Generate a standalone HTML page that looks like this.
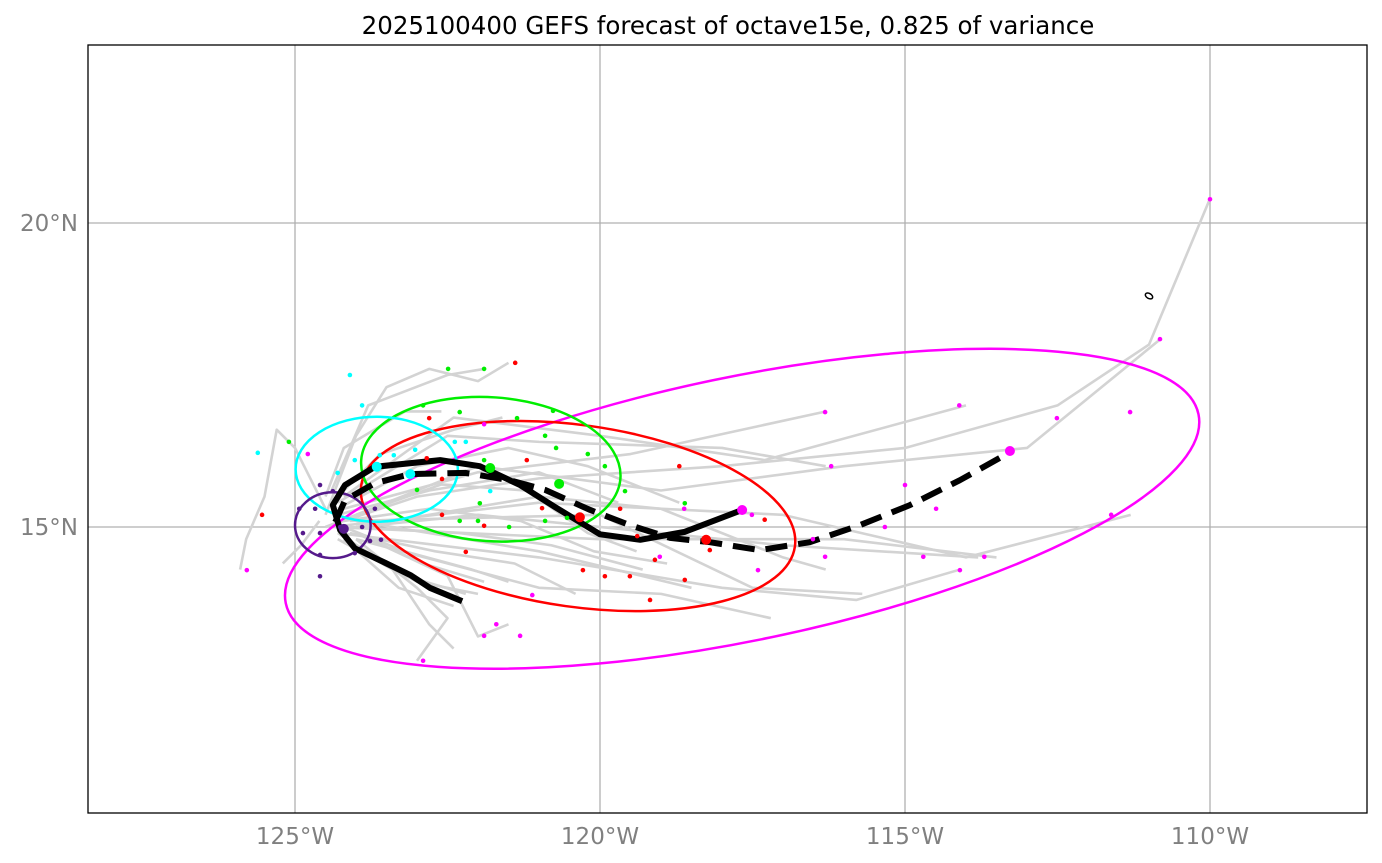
<!DOCTYPE html>
<html><head><meta charset="utf-8"><style>
body{margin:0;background:#fff;}
svg{display:block;font-family:"DejaVu Sans","Liberation Sans",sans-serif;}
</style></head><body>
<svg id="chart" width="1382" height="863">
<text x="728" y="34" text-anchor="middle" font-size="24.5" fill="#000">2025100400 GEFS forecast of octave15e, 0.825 of variance</text>
<g id="grid"></g><g id="tracks"></g><g id="ells"></g><g id="means"></g><g id="dots"></g><g id="axes"></g>
<rect x="88" y="45" width="1279" height="768" fill="none" stroke="#000" stroke-width="1.3"/>
</svg>
<script>
const lonTicks=[-125,-120,-115,-110];
const lonLabels=["125°W","120°W","115°W","110°W"];
const latTicks=[15,20];
const latLabels=["15°N","20°N"];
const grayTracks=[
[[-124.5,15],[-123,15.5],[-121,15.8],[-118,16],[-115,16.3],[-112.5,17],[-111,18],[-110,20.4]],
[[-124.5,15],[-122,16],[-119,15.6],[-116,16.0],[-113,16.3],[-110.8,18.1]],
[[-124.4,15],[-121,15.4],[-117,15.2],[-114,14.5],[-111.3,15.2]],
[[-124.4,15],[-120,14.8],[-116,14.8],[-113.5,14.5]],
[[-124.3,14.9],[-121,14.5],[-118,14],[-115.8,13.8],[-114.1,14.3]],
[[-124.5,15.2],[-124,16.5],[-123.5,17.3],[-122.8,17.6],[-122,17.4],[-121.5,17.7]],
[[-124.5,15.3],[-125,16.3],[-125.3,16.6],[-125.5,15.5],[-125.8,14.8],[-125.9,14.3]],
[[-124,14.8],[-123,14],[-122.5,13.5],[-123,12.8]],
[[-124,14.9],[-122.5,14.2],[-122,13.2],[-121.5,13.4]],
[[-124,15],[-121,15.5],[-119,15.3],[-117,14.5],[-116.3,14.3]],
[[-124,15.1],[-121,14.6],[-118.5,14.0]],
[[-124,15.0],[-122,15.2],[-119,14.9],[-117,14.7],[-113.8,14.5]],
[[-124,14.8],[-121,14.0],[-119,13.9],[-117.2,13.5]],
[[-124.3,15.4],[-122.5,16.5],[-121,16.4],[-118,16.3],[-116.3,16.0]],
[[-124.2,15.5],[-122.4,16.8],[-120,16.5],[-117.3,16.1],[-114.0,17.0]],
[[-124.2,15.3],[-122,15.9],[-119.5,16.2],[-116.3,16.9]],
[[-124.1,15.1],[-120,15.2],[-117.5,14.0],[-115.7,13.9]],
[[-124.4,15.6],[-123.8,17.0],[-122.5,17.5],[-121.9,17.6]],
[[-124.3,14.9],[-123.2,14.2],[-122.2,13.9]],
[[-124.2,14.8],[-123.3,14.0],[-122.4,13.7]],
[[-124.1,14.7],[-123,14.1],[-122,13.9]],
[[-124.0,14.9],[-122.9,14.4],[-121.9,14.1]],
[[-124.2,15.0],[-123.2,14.6],[-122.1,14.3],[-121.5,14.1]],
[[-124.3,15.2],[-122.8,15.6],[-121,15.9],[-119.7,15.4]],
[[-124.3,15.3],[-123,16.0],[-121.5,16.3],[-120.2,16.0],[-118.7,15.4]],
[[-124.6,15.1],[-124.9,14.7],[-125.2,14.4]],
[[-124.4,15.4],[-123.6,16.2],[-122.4,16.6],[-121.6,16.8]],
[[-124.0,15.2],[-122.6,15.7],[-121.2,15.6],[-120.2,14.9],[-119.4,14.6]],
[[-124.3,14.8],[-123.4,14.3],[-122.8,13.4],[-122.4,13.0]],
[[-124.1,15.0],[-122.3,14.9],[-120.8,14.7],[-119.3,14.3]],
[[-124.2,15.1],[-122.8,15.3],[-121.3,15.1],[-120.1,14.6],[-118.9,14.4]],
[[-124.5,15.5],[-124.2,16.3],[-123.2,16.9],[-122.6,16.9]],
[[-124.1,14.9],[-122.7,14.6],[-121.4,14.4],[-120.4,13.9]]
];
const meanLon=[-122.26,-122.79,-123.11,-123.52,-124.02,-124.26,-124.38,-124.18,-123.69,-122.62,-121.97,-121.31,-120.74,-120.0,-119.34,-118.61,-117.67];
const meanLat=[13.78,14.0,14.21,14.41,14.65,14.95,15.36,15.69,15.99,16.10,16.00,15.69,15.33,14.88,14.79,14.92,15.28];
const dashLon=[-124.34,-124.18,-123.69,-123.11,-122.21,-121.48,-120.90,-120.16,-119.51,-118.85,-118.20,-117.38,-116.56,-115.74,-114.92,-114.10,-113.28];
const dashLat=[15.08,15.44,15.72,15.87,15.89,15.77,15.61,15.28,15.03,14.82,14.75,14.62,14.75,15.03,15.36,15.77,16.23];
const ellColors=["#ff00ff","#ff0000","#00ee00","#00ffff","#551a8b"];
const ellLon=[-117.67,-120.36,-121.79,-123.66,-124.38];
const ellLat=[15.3,15.18,15.95,15.95,15.03];
const ellA=[7.64,3.59,2.13,1.33,0.62];
const ellB=[2.16,1.49,1.18,0.86,0.54];
const ellAng=[-11.7,8,4,0,0];
const redDots=[[-121.39,17.70],[-122.80,16.79],[-122.59,15.79],[-122.84,16.13],[-122.59,15.20],[-122.20,14.59],[-121.90,15.02],[-121.20,16.10],[-120.95,15.31],[-120.28,14.29],[-119.92,14.19],[-119.51,14.19],[-119.10,14.46],[-119.18,13.80],[-118.61,14.13],[-118.20,14.62],[-118.70,16.00],[-117.30,15.12],[-119.67,15.30],[-119.39,14.85],[-125.54,15.20]];
const greenDots=[[-122.49,17.60],[-121.90,17.60],[-122.90,17.00],[-122.30,16.89],[-121.36,16.79],[-120.90,16.50],[-120.72,16.30],[-120.20,16.20],[-119.92,16.00],[-123.00,15.61],[-121.90,16.10],[-121.97,15.39],[-122.30,15.10],[-122.00,15.10],[-121.49,15.00],[-120.90,15.10],[-120.54,15.15],[-119.59,15.59],[-118.61,15.39],[-125.10,16.40],[-120.77,16.91]];
const cyanDots=[[-124.10,17.50],[-123.90,17.00],[-124.02,16.10],[-123.61,16.18],[-123.38,16.18],[-123.03,16.27],[-122.38,16.40],[-122.20,16.40],[-121.80,15.59],[-124.30,15.89],[-125.61,16.22]];
const magentaDots=[[-124.79,16.20],[-121.90,16.69],[-110.0,20.39],[-110.82,18.09],[-111.31,16.89],[-112.51,16.79],[-114.11,17.00],[-115.00,15.69],[-116.31,16.89],[-116.21,16.00],[-114.49,15.30],[-115.33,15.00],[-114.70,14.51],[-113.70,14.51],[-114.10,14.29],[-111.62,15.20],[-116.31,14.51],[-116.51,14.80],[-117.41,14.29],[-117.51,15.20],[-118.62,15.30],[-119.02,14.51],[-121.11,13.88],[-121.90,13.21],[-121.70,13.40],[-121.31,13.21],[-122.90,12.80],[-125.79,14.29]];
const purpleDots=[[-124.59,15.69],[-124.38,15.59],[-124.93,15.30],[-124.67,15.30],[-124.87,14.90],[-124.59,14.90],[-124.26,15.00],[-124.59,14.54],[-123.90,15.00],[-123.77,14.77],[-123.59,14.79],[-124.59,14.19],[-123.69,15.30],[-124.02,14.57]];
const bigColors=["#00ffff","#00ffff","#00ee00","#00ee00","#ff0000","#ff0000","#ff00ff","#ff00ff","#551a8b"];
const bigLon=[-123.66,-123.11,-121.80,-120.67,-120.33,-118.26,-117.67,-113.28,-124.20];
const bigLat=[15.99,15.87,15.97,15.71,15.16,14.79,15.28,16.25,14.97];

const NS="http://www.w3.org/2000/svg";
const X=lon=>295+(lon+125)*61;
const Y=lat=>527-(lat-15)*60.8;
function mk(tag,parent,attrs){const e=document.createElementNS(NS,tag);for(const k in attrs)e.setAttribute(k,attrs[k]);document.getElementById(parent).appendChild(e);return e;}

lonTicks.forEach((t,i)=>{
 const l=mk('line','grid',{x1:X(t),x2:X(t),y1:45,y2:813,stroke:'#b0b0b0','stroke-width':1.3});
 
 
 const tx=mk('text','axes',{x:X(t),y:844,'text-anchor':'middle','font-size':23,fill:'#808080'});
 tx.textContent=lonLabels[i];
 
 
});
latTicks.forEach((t,i)=>{
 const l=mk('line','grid',{x1:88,x2:1367,y1:Y(t),y2:Y(t),stroke:'#b0b0b0','stroke-width':1.3});
 
 
 const tx=mk('text','axes',{x:78,y:Y(t)+8,'text-anchor':'end','font-size':23,fill:'#808080'});
 tx.textContent=latLabels[i];
 
 
});
grayTracks.forEach(tr=>{
 const p=mk('polyline','tracks',{points:tr.map(q=>X(q[0])+','+Y(q[1])).join(' '),fill:'none',stroke:'#d3d3d3','stroke-width':2.6,'stroke-linejoin':'round'});
 
 
});
ellColors.forEach((c,i)=>{
 const e=mk('ellipse','ells',{cx:X(ellLon[i]),cy:Y(ellLat[i]),rx:ellA[i]*61,ry:ellB[i]*61,fill:'none',stroke:c,'stroke-width':2.5,transform:`rotate(${ellAng[i]} ${X(ellLon[i])} ${Y(ellLat[i])})`});
 
 
});
const m1=mk('polyline','means',{points:meanLon.map((v,i)=>X(v)+','+Y(meanLat[i])).join(' '),fill:'none',stroke:'#000','stroke-width':6,'stroke-linejoin':'round'});


const m2=mk('polyline','means',{points:dashLon.map((v,i)=>X(v)+','+Y(dashLat[i])).join(' '),fill:'none',stroke:'#000','stroke-width':6,'stroke-dasharray':'22,11','stroke-linejoin':'round'});


[[redDots,'#ff0000'],[greenDots,'#00ee00'],[cyanDots,'#00ffff'],[magentaDots,'#ff00ff'],[purpleDots,'#551a8b']].forEach(([arr,c])=>{
 arr.forEach(q=>{
  const d=mk('circle','dots',{cx:X(q[0]),cy:Y(q[1]),r:2.3,fill:c});
  
  
 });
});
bigLon.forEach((v,i)=>{
 const d=mk('circle','dots',{cx:X(v),cy:Y(bigLat[i]),r:5,fill:bigColors[i]});
 
 
});
const isl=mk('ellipse','dots',{cx:X(-111.0),cy:Y(18.8),rx:4,ry:2.5,fill:'none',stroke:'#000','stroke-width':1.5,transform:`rotate(30 ${X(-111.0)} ${Y(18.8)})`});


</script>
</body></html>
